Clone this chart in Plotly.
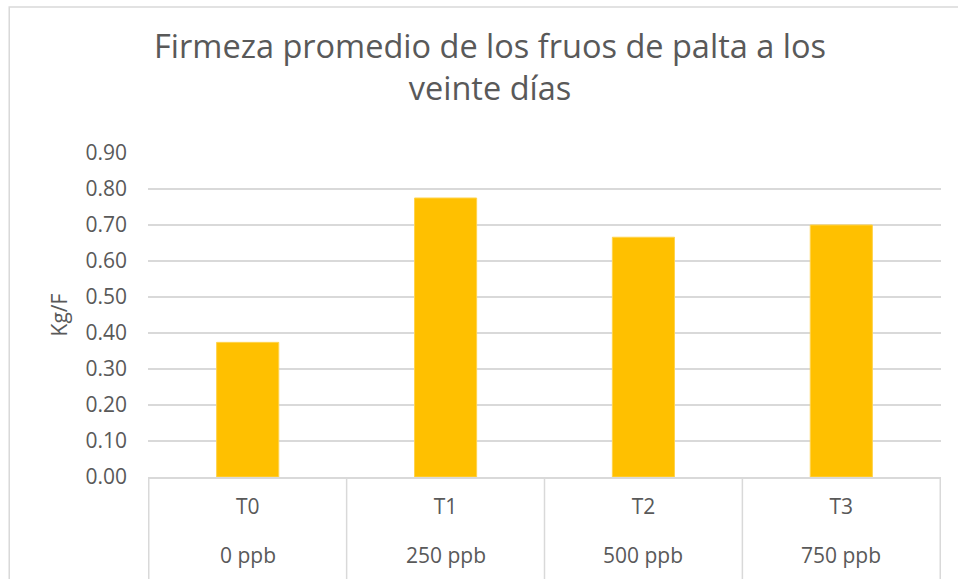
import plotly.graph_objects as go

treatments = ["T0", "T1", "T2", "T3"]
doses = ["0 ppb", "250 ppb", "500 ppb", "750 ppb"]
firmness = [0.374, 0.775, 0.666, 0.70]

FONT = "Open Sans"
GREY = "#595959"
LINE = "#d9d9d9"

fig = go.Figure(
    go.Bar(
        x=treatments, y=firmness,
        marker={"color": "#FFC000", "line": {"color": "#FFD34D", "width": 1}},
        hoverinfo="x+y",
    )
)

# table-style category axis: vertical dividers and the second label row
for i in range(len(treatments) + 1):
    fig.add_shape(type="line", xref="x", yref="paper",
                  x0=i - 0.5, x1=i - 0.5, y0=0, y1=-0.5,
                  line={"color": LINE, "width": 1.5})
for t, d in zip(treatments, doses):
    fig.add_annotation(x=t, y=0, xref="x", yref="paper", text=d,
                       showarrow=False, yanchor="middle", yshift=-78,
                       font={"family": FONT, "size": 21, "color": GREY})

# chart area border (cropped at right and bottom in the source)
fig.add_shape(type="rect", xref="paper", yref="paper",
              x0=-0.175, x1=1.2, y0=-0.6, y1=1.451,
              line={"color": LINE, "width": 1.5})

fig.update_layout(
    width=958, height=579,
    margin={"l": 148, "r": 17, "t": 153, "b": 102},
    paper_bgcolor="white", plot_bgcolor="white",
    bargap=0.686,
    showlegend=False,
    font={"family": FONT, "color": GREY},
    title={
        "text": "Firmeza promedio de los fruos de palta a los<br>veinte días",
        "x": 0.5115, "xanchor": "center", "y": 0.9, "yanchor": "middle",
        "font": {"family": FONT, "size": 32.5, "color": GREY},
    },
    xaxis={
        "showgrid": False, "showline": True, "linecolor": LINE, "linewidth": 1.5,
        "ticks": "", "tickfont": {"size": 21, "color": GREY},
        "ticklabelstandoff": 10,
    },
    yaxis={
        "range": [0, 0.9], "dtick": 0.1, "tickformat": ".2f",
        "showgrid": True, "gridcolor": LINE, "gridwidth": 1.5,
        "zeroline": False, "showline": False, "ticks": "",
        "tickfont": {"size": 21, "color": GREY}, "ticklabelstandoff": 20,
        "title": {"text": "Kg/F", "font": {"size": 21, "color": GREY}, "standoff": 12},
    },
)

fig.write_html("out.html", config={"displayModeBar": False},
               post_script="document.body.style.margin='0';")
